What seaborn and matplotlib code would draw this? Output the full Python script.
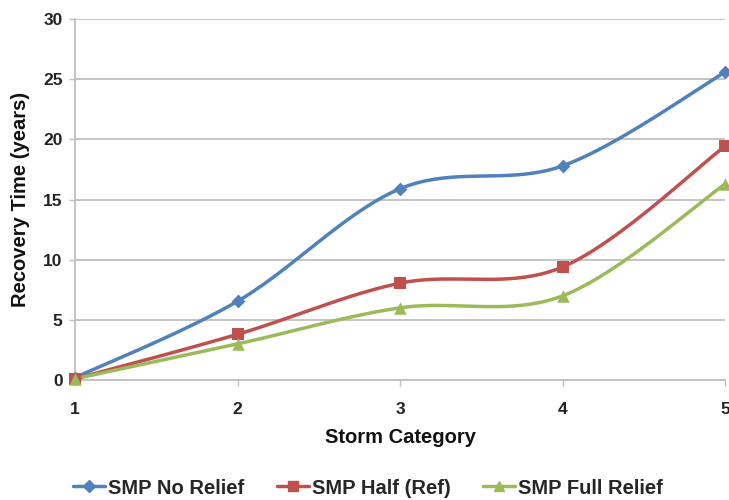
import numpy as np
import pandas as pd
import matplotlib
matplotlib.use("Agg")
import matplotlib.pyplot as plt
import seaborn as sns

categories = [1, 2, 3, 4, 5]
no_relief = [0.2, 6.55, 15.9, 17.8, 25.6]
half_ref = [0.1, 3.8, 8.05, 9.4, 19.45]
full_relief = [0.1, 3.0, 6.0, 7.0, 16.3]
series_names = ["SMP No Relief", "SMP Half (Ref)", "SMP Full Relief"]
colors = ["#4F81BD", "#C0504D", "#9BBB59"]
markers = ["D", "s", "^"]
msizes = [7, 9, 9]
yticks = [0, 5, 10, 15, 20, 25, 30]

sns.set_theme(style="white")
plt.rcParams['font.family'] = ['Liberation Sans', 'DejaVu Sans']

def smooth(x, y, n=40):
    # Excel-like smoothed line (Catmull-Rom bezier)
    x = np.asarray(x, float); y = np.asarray(y, float)
    px = np.concatenate([[x[0]], x, [x[-1]]])
    py = np.concatenate([[y[0]], y, [y[-1]]])
    xs, ys = [], []
    t = np.linspace(0, 1, n)
    for i in range(1, len(px) - 2):
        p0 = np.array([px[i], py[i]]); p3 = np.array([px[i + 1], py[i + 1]])
        c1 = p0 + (p3 - np.array([px[i - 1], py[i - 1]])) / 6
        c2 = p3 - (np.array([px[i + 2], py[i + 2]]) - p0) / 6
        b = ((1 - t) ** 3)[:, None] * p0 + (3 * (1 - t) ** 2 * t)[:, None] * c1 + \
            (3 * (1 - t) * t ** 2)[:, None] * c2 + (t ** 3)[:, None] * p3
        xs.append(b[:, 0]); ys.append(b[:, 1])
    return np.concatenate(xs), np.concatenate(ys)

fig = plt.figure(figsize=(7.29, 5.0), dpi=100)
ax = fig.add_axes([0.103, 0.24, 0.892, 0.722])

data = [no_relief, half_ref, full_relief]
for name, vals, c, m, ms in zip(series_names, data, colors, markers, msizes):
    sx, sy = smooth(categories, vals)
    ax.plot(sx, sy, color=c, lw=2.5, zorder=3, solid_capstyle='round')
    df = pd.DataFrame({"x": categories, "y": vals})
    sns.scatterplot(data=df, x="x", y="y", ax=ax, color=c, marker=m, s=ms ** 2,
                    edgecolor=c, linewidth=0, zorder=4, clip_on=False, legend=False)
    ax.plot([], [], color=c, lw=2.5, marker=m, markersize=ms * 0.85, label=name)

ax.set_xlim(1, 5)
ax.set_ylim(0, 30)
ax.set_yticks(yticks)
ax.set_xticks(categories)
ax.set_xticklabels([str(c) for c in categories])
ax.grid(axis='y', color='#BFBFBF', lw=1.3)
ax.set_axisbelow(True)
for s in ['top', 'right']:
    ax.spines[s].set_visible(False)
for s in ['left', 'bottom']:
    ax.spines[s].set_color('#BFBFBF')
    ax.spines[s].set_linewidth(1.3)
ax.tick_params(axis='x', bottom=True, length=4, color='#BFBFBF', width=1, pad=12)
ax.tick_params(axis='y', left=True, length=4, color='#BFBFBF', width=1, pad=5)
for lab in ax.get_xticklabels() + ax.get_yticklabels():
    lab.set_fontweight('bold'); lab.set_fontsize(12.5); lab.set_color('#222222')
ax.set_xlabel("Storm Category", fontsize=14.5, fontweight='bold', labelpad=8, color='#111111')
ax.set_ylabel("Recovery Time (years)", fontsize=14.5, fontweight='bold', color='#111111')
ax.yaxis.set_label_coords(-0.07, 0.5)

leg = fig.legend(loc='center', bbox_to_anchor=(0.505, 0.024), ncol=3, frameon=False,
                 fontsize=14.5, handlelength=1.6, columnspacing=1.6, handletextpad=0.15)
for t in leg.get_texts():
    t.set_fontweight('bold')

fig.savefig("out.png", dpi=100)
